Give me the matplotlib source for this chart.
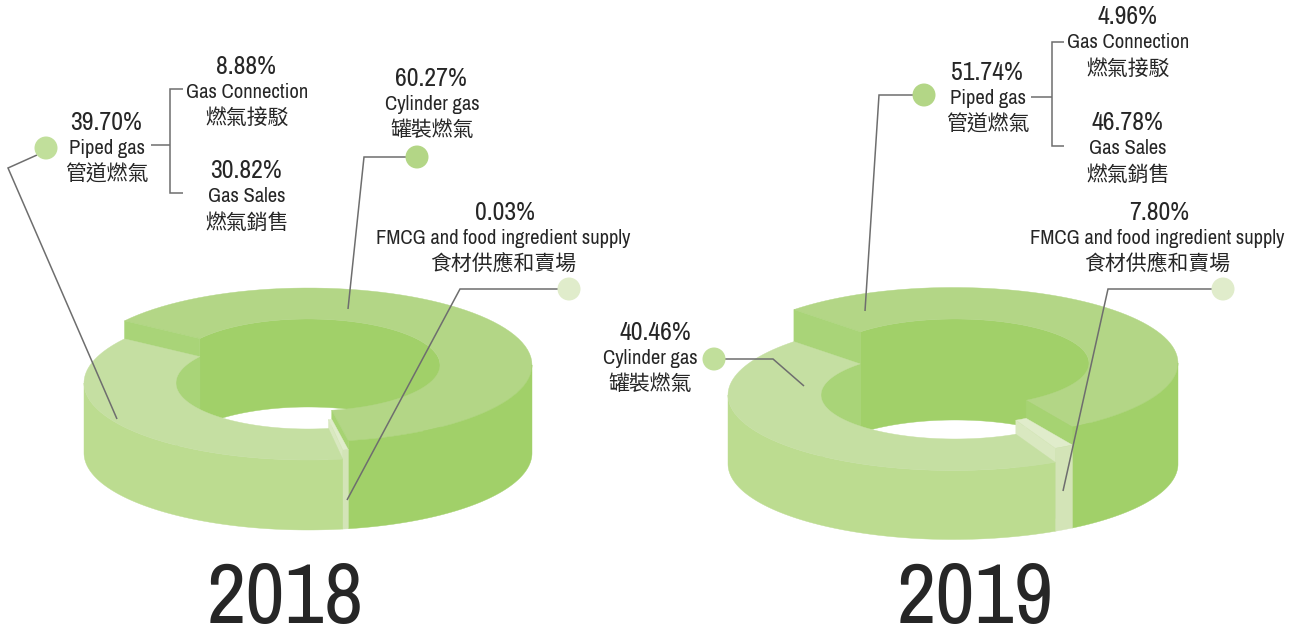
import numpy as np
import matplotlib
matplotlib.use("Agg")
import matplotlib.pyplot as plt
from matplotlib.patches import Polygon, Circle

plt.rcParams['font.family'] = ['Archivo Narrow', 'Noto Sans CJK TC', 'DejaVu Sans']

# ---- data -----------------------------------------------------------------
years = ['2018', '2019']
# labelled percentages
pct_2018 = ['39.70%', '8.88%', '30.82%', '60.27%', '0.03%']
pct_2019 = ['51.74%', '4.96%', '46.78%', '40.46%', '7.80%']
# wedge shares as actually drawn in the picture: large, sliver, other
drawn_2018 = [62.4, 0.4, 37.2]
drawn_2019 = [53.6, 1.4, 45.0]
start_2018 = 305.0
start_2019 = 315.0
# wedge heights (px) above the common base plane
heights_2018 = [88, 79, 70]
heights_2019 = [101, 83, 69]

C_TOP = ['#B3D686', '#E0ECCB', '#C5DFA2']
C_WALL = ['#A1D069', '#D3E4B7', '#BCDC90']
C_CUT = ['#A6D372', '#D9E8C0', '#A9D478']
TXT = '#262626'
LINE = '#6E6E6E'

fig = plt.figure(figsize=(12.96, 6.37), dpi=100)
ax = fig.add_axes([0, 0, 1, 1])
ax.set_xlim(0, 1296)
ax.set_ylim(637, 0)
ax.axis('off')

Z = [10]


def add(pts, color):
    Z[0] += 1
    ax.add_patch(Polygon(pts, closed=True, facecolor=color, edgecolor=color, lw=0.3, zorder=Z[0]))


def arc(cx, cy, rx, ry, a, b, n=80):
    t = np.radians(np.linspace(a, b, n))
    return np.column_stack([cx + rx * np.sin(t), cy - ry * np.cos(t)])


def ring(cx, icx, top, R, r, a0, a1):
    return np.vstack([arc(cx, top, R[0], R[1], a0, a1), arc(icx, top, r[0], r[1], a1, a0)])


def wall(cx, top, base, rad, a0, a1):
    return np.vstack([arc(cx, top, rad[0], rad[1], a0, a1), arc(cx, base, rad[0], rad[1], a1, a0)])


def cut(cx, icx, top, base, R, r, a, color):
    o = arc(cx, top, R[0], R[1], a, a, 1)[0]
    n = arc(icx, top, r[0], r[1], a, a, 1)[0]
    dh = base - top
    add([n, o, o + [0, dh], n + [0, dh]], color)


def donut(cx, icx, base, R, r, shares, start, heights):
    angs = [start]
    for s in shares:
        angs.append(angs[-1] + s * 3.6)
    tops = [base - h for h in heights]
    # back inner walls
    add(wall(icx, tops[0], base, r, angs[0], 360 + 90), C_WALL[0])
    add(wall(icx, tops[2], base, r, 270, start), C_CUT[2])
    # large wedge
    add(ring(cx, icx, tops[0], R, r, angs[0], angs[1]), C_TOP[0])
    add(wall(cx, tops[0], base, R, 360 + 90, angs[1]), C_WALL[0])
    cut(cx, icx, tops[0], base, R, r, angs[1], C_CUT[0])
    cut(cx, icx, tops[0], base, R, r, start, C_CUT[2])
    # sliver
    add(ring(cx, icx, tops[1], R, r, angs[1], angs[2]), C_TOP[1])
    add(wall(cx, tops[1], base, R, angs[1], angs[2]), C_WALL[1])
    cut(cx, icx, tops[1], base, R, r, angs[2], C_CUT[1])
    # lower wedge
    add(wall(cx, tops[2], base, R, angs[2], 360 + 270), C_WALL[2])
    add(ring(cx, icx, tops[2], R, r, angs[2], angs[3]), C_TOP[2])


donut(308, 308, 453, (224, 77), (132, 46), drawn_2018, start_2018, heights_2018)
donut(953, 955, 464, (225, 75.5), (134, 44), drawn_2019, start_2019, heights_2019)


def polyline(xs, ys):
    ax.plot(xs, ys, color=LINE, lw=1.1, zorder=50, solid_joinstyle='miter', solid_capstyle='butt')


def dot(x, y, c):
    ax.add_patch(Circle((x, y), 11.5, facecolor=c, edgecolor='none', zorder=51))


def label(x, y, s, size=14.8):
    ax.text(x, y, s, ha='center', va='center', fontsize=size, color=TXT, zorder=60)


def block(x, y, pct, en, zh, x2=None):
    x2 = x if x2 is None else x2
    label(x, y + 1, pct, 18.6)
    label(x2, y + 27, en)
    label(x2, y + 53, zh, 15.0)


# 2018 leaders
polyline([37, 8, 117], [155, 168, 419])
dot(46, 148, '#C1DF9B')
polyline([151, 170], [145, 145])
polyline([183, 170, 170, 183], [89, 89, 193, 193])
polyline([417, 364, 348], [157, 157, 309])
dot(417, 157, '#B3D686')
polyline([569, 460, 347], [289, 289, 500])
dot(569, 289, '#E0ECCB')

# 2019 leaders
polyline([924, 879, 865], [95, 95, 311])
dot(924, 95, '#B3D686')
polyline([1031, 1052], [97, 97])
polyline([1064, 1052, 1052, 1064], [42, 42, 146, 146])
polyline([714, 773, 804], [359, 359, 386])
dot(714, 359, '#C1DF9B')
polyline([1223, 1108, 1063], [289, 289, 491])
dot(1223, 289, '#E0ECCB')

# 2018 labels
block(106, 121, pct_2018[0], 'Piped gas', '管道燃氣', 107)
block(246, 65, pct_2018[1], 'Gas Connection', '燃氣接駁', 247)
block(246, 170, pct_2018[2], 'Gas Sales', '燃氣銷售', 247)
block(431, 77, pct_2018[3], 'Cylinder gas', '罐裝燃氣', 432)
block(505, 211, pct_2018[4], 'FMCG and food ingredient supply', '食材供應和賣場', 503)

# 2019 labels
block(987, 71, pct_2019[0], 'Piped gas', '管道燃氣', 988)
block(1127, 16, pct_2019[1], 'Gas Connection', '燃氣接駁', 1128)
block(1127, 122, pct_2019[2], 'Gas Sales', '燃氣銷售', 1128)
block(655, 331, pct_2019[3], 'Cylinder gas', '罐裝燃氣', 650)
block(1159, 211, pct_2019[4], 'FMCG and food ingredient supply', '食材供應和賣場', 1157)

ax.text(285, 599.5, years[0], ha='center', va='center', fontsize=62, color=TXT, zorder=60)
ax.text(975, 599.5, years[1], ha='center', va='center', fontsize=62, color=TXT, zorder=60)

fig.savefig('out.png', dpi=100, facecolor='white')
